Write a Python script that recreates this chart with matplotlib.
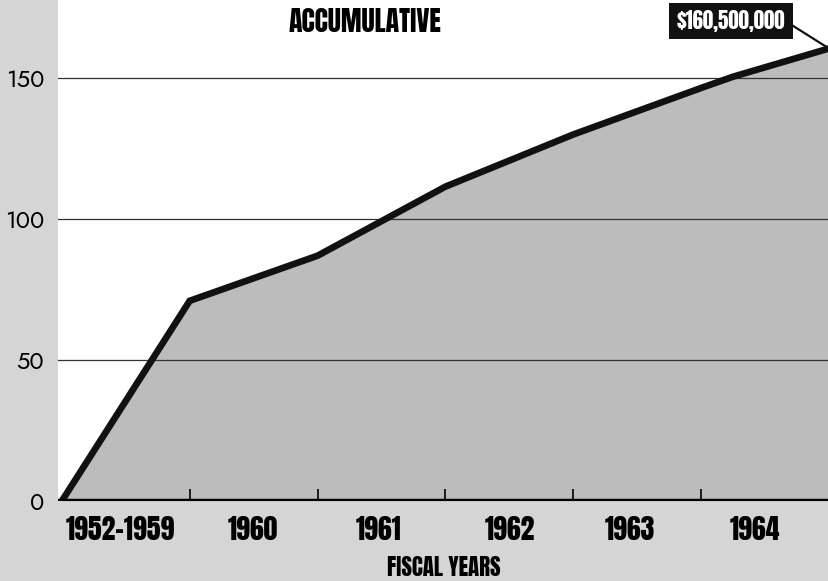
import numpy as np
import matplotlib
matplotlib.use('Agg')
import matplotlib.pyplot as plt

# Data (millions of dollars, cumulative), x in fiscal-year units
years_x = [0, 1, 2, 3, 4, 5, 5.25, 6]
totals = [0, 71, 87, 111.5, 130, 146.5, 150.5, 160.5]
year_labels = ['1952-1959', '1960', '1961', '1962', '1963', '1964']
label_pos = [0.46, 1.49, 2.48, 3.5, 4.44, 5.42]
boundaries = [1, 2, 3, 4, 5]
yticks = [0, 50, 100, 150]

BG = '#d5d5d5'
FILL = '#bcbcbc'
GOTHIC = ['Anton', 'Antonio', 'DejaVu Sans']
AXISFONT = ['Jost', 'Barlow Semi Condensed', 'DejaVu Sans']

fig = plt.figure(figsize=(8.29, 5.81), dpi=100, facecolor=BG)
ax = fig.add_axes([58 / 829, 80 / 581, 1 - 58 / 829, 1 - 80 / 581])
ax.set_facecolor('white')

ax.fill_between(years_x, totals, 0, color=FILL, lw=0, zorder=1)
for v in yticks[1:]:
    ax.axhline(v, color='#333333', lw=0.9, zorder=2)
ax.plot(years_x, totals, color='#111111', lw=4.8, solid_joinstyle='miter', zorder=3)
ax.axhline(0, color='black', lw=3.2, zorder=4)

ax.set_xlim(-0.03, 6.0)
ax.set_ylim(0, 177.7)

for s in ax.spines.values():
    s.set_visible(False)

ax.set_yticks(yticks)
ax.set_yticklabels([str(v) for v in yticks], family=AXISFONT, fontsize=17, color='black')
ax.tick_params(axis='y', length=0, pad=10)

ax.set_xticks(boundaries)
ax.set_xticklabels([])
ax.tick_params(axis='x', which='major', direction='in', length=9, width=1.2, color='black')
ax.set_xticks(label_pos, minor=True)
ax.set_xticklabels(year_labels, minor=True, family=GOTHIC, fontsize=20)
ax.tick_params(axis='x', which='minor', length=0, pad=11)

fig.text(365 / 829, 1 - 21 / 581, 'ACCUMULATIVE', family=GOTHIC,
         fontsize=20, ha='center', va='center')
fig.text(444 / 829, 1 - 568 / 581, 'FISCAL YEARS', family=GOTHIC,
         fontsize=16.5, ha='center', va='center')

ax.annotate('$160,500,000', xy=(years_x[-1], totals[-1]),
            xytext=(731 / 829, 1 - 21 / 581), textcoords='figure fraction',
            ha='center', va='center', family=GOTHIC,
            fontsize=15, color='white',
            bbox=dict(boxstyle='square,pad=0.35', fc='#111111', ec='none'),
            arrowprops=dict(arrowstyle='-', color='#111111', lw=1.6,
                            shrinkA=0, shrinkB=0, relpos=(1, 0.5)),
            zorder=5, annotation_clip=False)

plt.savefig('out.png', dpi=100, facecolor=BG)
